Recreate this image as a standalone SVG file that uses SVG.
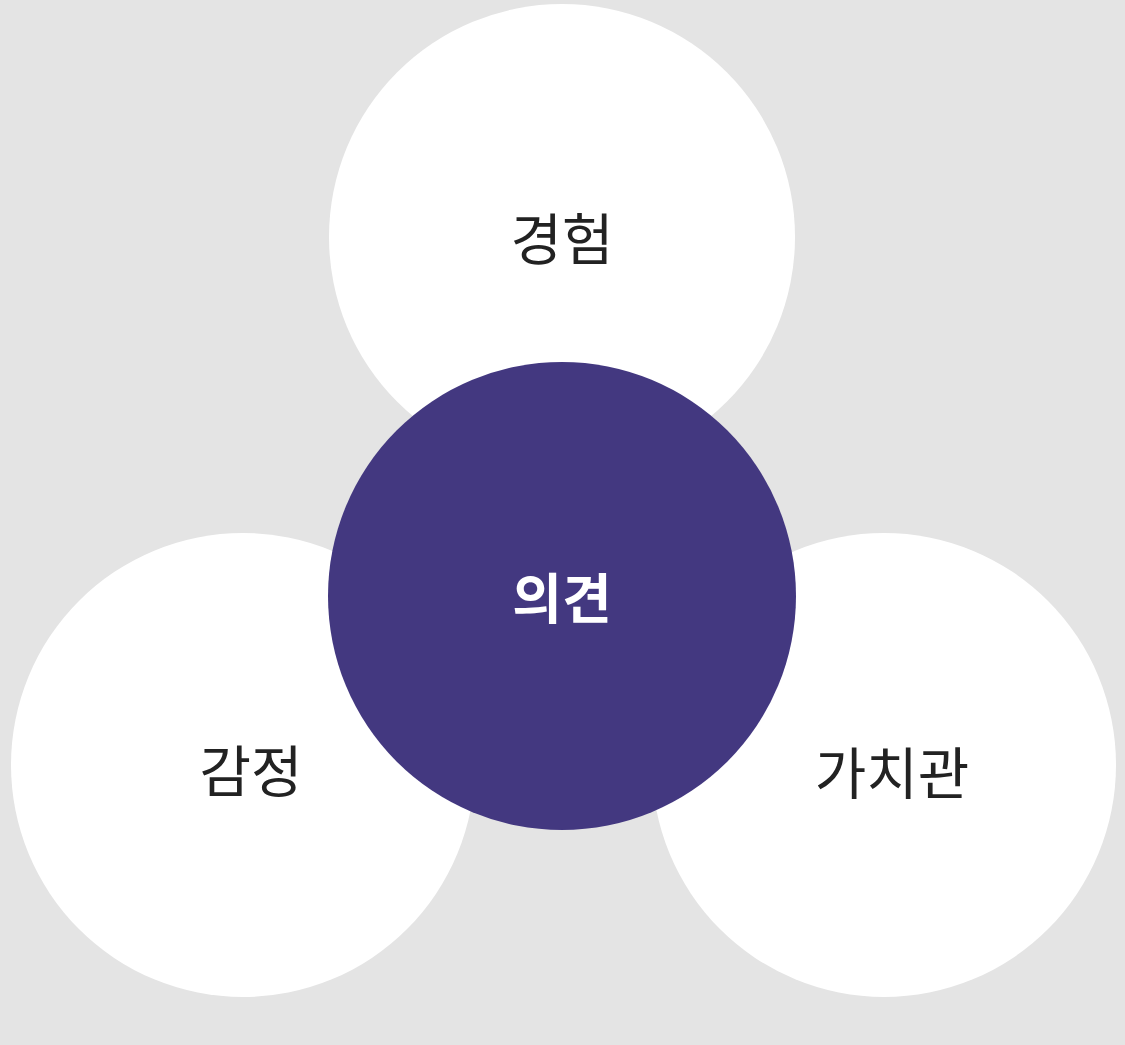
<svg xmlns="http://www.w3.org/2000/svg" width="1125" height="1045" viewBox="0 0 1125 1045">
<style>
.outer{fill:#ffffff}
.lbl{font-family:"Noto Sans CJK KR","Noto Sans",sans-serif;font-size:56px;fill:#222222;text-anchor:middle}
.ctr{font-family:"Noto Sans CJK KR","Noto Sans",sans-serif;font-size:54px;font-weight:bold;fill:#ffffff;text-anchor:middle}
</style>
<rect width="1125" height="1045" fill="#e4e4e4"/>
<g id="connectors"></g>
<g id="node-experience"><circle class="outer" cx="562" cy="237" r="233"/><text class="lbl" x="562" y="260">경험</text></g>
<g id="node-emotion"><circle class="outer" cx="243" cy="765" r="232"/><text class="lbl" x="251" y="792">감정</text></g>
<g id="node-values"><circle class="outer" cx="884" cy="765" r="232"/><text class="lbl" x="892" y="794">가치관</text></g>
<g id="node-opinion"><circle cx="562" cy="596" r="234" fill="#433880"/><text class="ctr" x="562" y="619">의견</text></g>
</svg>
